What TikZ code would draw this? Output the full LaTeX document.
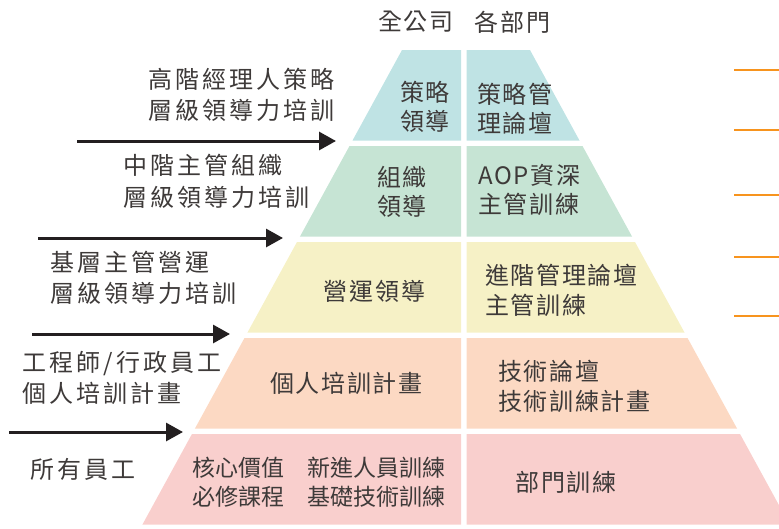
\documentclass[tikz,border=0pt]{standalone}
\usepackage{fontspec}
\setmainfont{Noto Sans CJK TC}
\newfontfamily\lblfont[LetterSpace=13]{Noto Sans CJK TC}
\newfontfamily\tierfont[LetterSpace=7]{Noto Sans CJK TC}
\usetikzlibrary{arrows.meta}
\definecolor{tierA}{HTML}{BFE3E4}
\definecolor{tierB}{HTML}{C6E4D4}
\definecolor{tierC}{HTML}{F6F1C6}
\definecolor{tierD}{HTML}{FCD9C3}
\definecolor{tierE}{HTML}{F9CFCD}
\definecolor{inkgray}{HTML}{3E3A39}
\definecolor{inkblack}{HTML}{231F20}
\definecolor{tickorange}{HTML}{F7941E}

\begin{document}
\begin{tikzpicture}[
          x=1pt, y=-1pt,  % pixel grid of the layout
          every node/.style={text=inkgray, inner sep=0pt},
          lbl/.style={font=\lblfont\fontsize{24}{31.5}\selectfont, align=left, anchor=west}, % labels on the left
          inlbl/.style={font=\tierfont\fontsize{24}{29.5}\selectfont, align=left, anchor=west}, % text inside the pyramid
          midlbl/.style={font=\tierfont\fontsize{24}{29.5}\selectfont, align=center},
          feed/.style={draw=inkblack, line width=3pt, -{Triangle[length=17pt,width=18pt]}},
          tick/.style={draw=tickorange, line width=2.5pt}
        ]
        \clip (0,0) rectangle (779,528);

        % pyramid, five tiers split in two columns
        \foreach \col [count=\i from 0] in {tierA,tierB,tierC,tierD,tierE}{
          \pgfmathsetmacro{\yt}{50+96*\i}
          \pgfmathsetmacro{\yb}{\yt+90.5}
          \pgfmathsetmacro{\xlt}{402-0.547*(\yt-50)}
          \pgfmathsetmacro{\xlb}{402-0.547*(\yb-50)}
          \pgfmathsetmacro{\xrt}{530+0.547*(\yt-50)}
          \pgfmathsetmacro{\xrb}{530+0.547*(\yb-50)}
          \fill[\col] (\xlt,\yt) -- (461,\yt) -- (461,\yb) -- (\xlb,\yb) -- cycle;
          \fill[\col] (466.5,\yt) -- (\xrt,\yt) -- (\xrb,\yb) -- (466.5,\yb) -- cycle;
        }

        % column heads
        \node[midlbl] (hdrall) at (416,22) {全公司};
        \node[midlbl] (hdrdept) at (512.5,22) {各部門};

        % tier texts
        \node[midlbl] (strL) at (425,107) {策略\\領導};
        \node[inlbl] (strR) at (477,109) {策略管\\理論壇};
        \node[midlbl] (orgL) at (402,192) {組織\\領導};
        \node[inlbl] (orgR) at (478,190) {AOP資深\\主管訓練};
        \node[midlbl] (opsL) at (374.5,291) {營運領導};
        \node[inlbl] (opsR) at (485,290.5) {進階管理論壇\\主管訓練};
        \node[midlbl] (indL) at (346.5,383) {個人培訓計畫};
        \node[inlbl] (indR) at (498,386.5) {技術論壇\\技術訓練計畫};
        \node[inlbl, font=\fontsize{23}{29.5}\selectfont] (allL) at (192,482) {核心價值　新進人員訓練\\必修課程　基礎技術訓練};
        \node[midlbl] (allR) at (566,482) {部門訓練};

        % left labels
        \node[lbl] (grpA) at (148,95) {高階經理人策略\\層級領導力培訓};
        \node[lbl] (grpB) at (123,181.5) {中階主管組織\\層級領導力培訓};
        \node[lbl] (grpC) at (50,278) {基層主管營運\\層級領導力培訓};
        \node[lbl] (grpD) at (22,378) {工程師/行政員工\\個人培訓計畫};
        \node[lbl] (grpE) at (30,469) {所有員工};

        % arrows into the tier boundaries
        \coordinate (fromA) at (77,141);  \coordinate (toA) at (336,141);
        \coordinate (fromB) at (38,238);  \coordinate (toB) at (283,238);
        \coordinate (fromC) at (32,334);  \coordinate (toC) at (230,334);
        \coordinate (fromD) at (9,432);   \coordinate (toD) at (183,432);
        \draw[feed] (fromA) -- (toA);
        \draw[feed] (fromB) -- (toB);
        \draw[feed] (fromC) -- (toC);
        \draw[feed] (fromD) -- (toD);

        % orange ticks on the right edge
        \foreach \ty in {70,130,195,257,316}
          \draw[tick] (734,\ty) -- (781,\ty);
        \end{tikzpicture}
\end{document}
